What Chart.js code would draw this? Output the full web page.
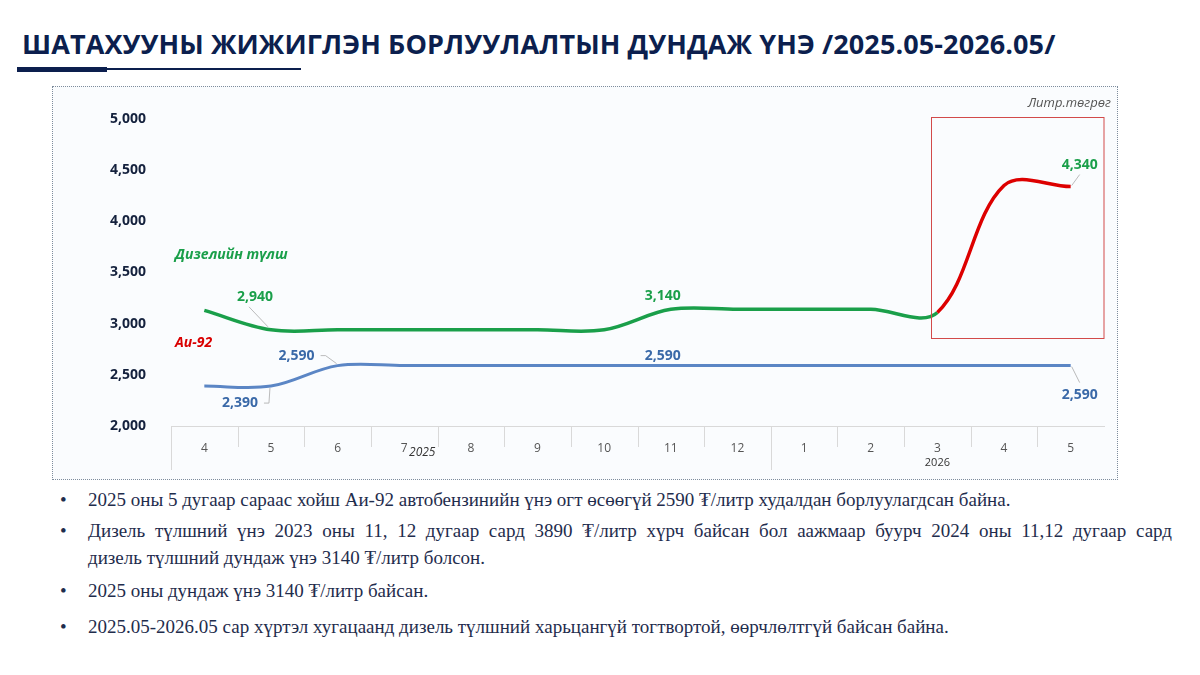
<!DOCTYPE html>
<html>
<head>
<meta charset="utf-8">
<script src="https://cdn.jsdelivr.net/npm/chart.js@4.4.1/dist/chart.umd.min.js"></script>
<style>
  body { margin: 0; background: #fff; }
  #page { position: relative; width: 1200px; height: 675px; overflow: hidden; background: #fff; }
  #title { position: absolute; left: 22px; top: 25px; font: 700 27px "Open Sans", sans-serif; letter-spacing: 0.1px; color: #0c1f4e; white-space: nowrap; }
  .bar1 { position: absolute; left: 17px; top: 67px; width: 90px; height: 5px; background: #0c1f4e; }
  .bar2 { position: absolute; left: 105px; top: 68px; width: 196px; height: 2px; background: #0c1f4e; }
  #box { position: absolute; left: 52px; top: 86px; width: 1064px; height: 392px; border: 1px dotted #7e8c9c; background: #fafcfe; }
  #chartWrap { position: absolute; left: 52px; top: 86px; width: 1066px; height: 394px; }
  .serLbl { position: absolute; font: italic 700 14px "Open Sans", sans-serif; white-space: nowrap; }
  #unit { position: absolute; right: 89px; top: 93px; font: italic 13px "Open Sans", sans-serif; color: #555; }
  .bl { position: absolute; left: 60px; font: 19px "Liberation Serif", "DejaVu Serif", serif; color: #1f2d4d; white-space: nowrap; }
  .bl .dot { position: absolute; left: 0; }
  .bl .tx { position: absolute; left: 28px; }
  .just { position: absolute; left: 88px; width: 1084px; font: 19px "Liberation Serif", "DejaVu Serif", serif; color: #1f2d4d; text-align: justify; text-align-last: justify; white-space: nowrap; }
</style>
</head>
<body>
<div id="page">
  <div id="title">ШАТАХУУНЫ ЖИЖИГЛЭН БОРЛУУЛАЛТЫН ДУНДАЖ ҮНЭ /2025.05-2026.05/</div>
  <div class="bar1"></div><div class="bar2"></div>
  <div id="box"></div>
  <div id="chartWrap"><canvas id="fuelChart"></canvas></div>
  <div class="serLbl" style="left:175px;top:244px;color:#1a9f4a">Дизелийн түлш</div>
  <div class="serLbl" style="left:175px;top:332px;color:#d90000">Аи-92</div>
  <div id="unit">Литр.төгрөг</div>

  <div class="bl" style="top:489px"><span class="dot">•</span><span class="tx">2025 оны 5 дугаар сараас хойш Аи-92 автобензинийн үнэ огт өсөөгүй 2590 ₮/литр худалдан борлуулагдсан байна.</span></div>
  <div class="bl" style="top:520px"><span class="dot">•</span></div>
  <div class="just" style="top:520px">Дизель түлшний үнэ 2023 оны 11, 12 дугаар сард 3890 ₮/литр хүрч байсан бол аажмаар буурч 2024 оны 11,12 дугаар сард</div>
  <div class="bl" style="top:547px"><span class="tx">дизель түлшний дундаж үнэ 3140 ₮/литр болсон.</span></div>
  <div class="bl" style="top:580px"><span class="dot">•</span><span class="tx">2025 оны дундаж үнэ 3140 ₮/литр байсан.</span></div>
  <div class="bl" style="top:616px"><span class="dot">•</span><span class="tx">2025.05-2026.05 сар хүртэл хугацаанд дизель түлшний харьцангүй тогтвортой, өөрчлөлтгүй байсан байна.</span></div>
</div>
<script>
// Сарууд (2025.04 - 2026.05)
const months = ['4', '5', '6', '7', '8', '9', '10', '11', '12', '1', '2', '3', '4', '5'];
const years = ['2025', '2026'];
const yearStart = [0, 9];

// Литр.төгрөг
const diesel = [3130, 2940, 2940, 2940, 2940, 2940, 2940, 3140, 3140, 3140, 3140, 3110, 4350, 4340];
const ai92 = [2390, 2390, 2590, 2590, 2590, 2590, 2590, 2590, 2590, 2590, 2590, 2590, 2590, 2590];

const yTicks = [2000, 2500, 3000, 3500, 4000, 4500, 5000];

// шошго гарах цэгүүд
const dieselLabelIdx = [1, 7, 13];
const ai92LabelIdx = [1, 2, 7, 13];

const GREEN = '#1a9f4a';
const RED = '#dd0000';
const BLUE = '#5b86c5';
const BLUE_TXT = '#3a69a8';
const FONT = '"Open Sans", sans-serif';

const fmt = v => v.toLocaleString('en-US');

// шошгоны байрлал: [dx, dy, leader төрөл]
const dieselPos = { 1: [-16, -33, 'down'], 7: [-8, -13, null], 13: [9, -22, 'up'] };
const ai92Pos = { 1: [-31, 17, 'side'], 2: [-41, -10, 'side'], 7: [-8, -10, null], 13: [9, 29, 'up'] };

const extras = {
  id: 'extras',
  afterDatasetsDraw(chart) {
    const { ctx, chartArea, scales: { x, y } } = chart;
    ctx.save();

    // x тэнхлэгийн хуваагч шугам
    ctx.strokeStyle = '#d9d9d9';
    ctx.lineWidth = 1;
    const cw = x.getPixelForValue(1) - x.getPixelForValue(0);
    for (let i = 0; i < months.length; i++) {
      const px = Math.round(x.getPixelForValue(i) - cw / 2) + 0.5;
      const long = yearStart.includes(i);
      ctx.beginPath();
      ctx.moveTo(px, chartArea.bottom);
      ctx.lineTo(px, chartArea.bottom + (long ? 44 : 21));
      ctx.stroke();
    }
    // он
    ctx.fillStyle = '#333';
    ctx.textAlign = 'center';
    ctx.textBaseline = 'middle';
    ctx.font = 'italic 12px ' + FONT;
    ctx.fillText(years[0], x.getPixelForValue(3.27), chartArea.bottom + 27);
    ctx.font = '11px ' + FONT;
    ctx.fillText(years[1], x.getPixelForValue(11), chartArea.bottom + 37);

    // улаан хүрээ
    ctx.strokeStyle = '#d24a4a';
    ctx.lineWidth = 1;
    const bx = Math.round(x.getPixelForValue(11) - 6) + 0.5;
    const by = Math.round(y.getPixelForValue(5020)) + 0.5;
    const bb = Math.round(y.getPixelForValue(2860)) + 0.5;
    ctx.strokeRect(bx, by, Math.round(chartArea.right) - bx, bb - by);

    // утгын шошго
    const drawLabels = (dsIndex, idxs, pos, color) => {
      const meta = chart.getDatasetMeta(dsIndex);
      const data = chart.data.datasets[dsIndex].data;
      idxs.forEach(i => {
        const pt = meta.data[i];
        const [dx, dy, leader] = pos[i];
        const tx = pt.x + dx, ty = pt.y + dy;
        ctx.strokeStyle = '#aaaaaa';
        ctx.lineWidth = 0.8;
        ctx.beginPath();
        if (leader === 'down') {
          ctx.moveTo(tx - 6, ty + 10);
          ctx.lineTo(pt.x - 3, pt.y - 3);
        } else if (leader === 'side') {
          ctx.moveTo(tx + 24, ty);
          ctx.lineTo(tx + 29, ty);
          ctx.lineTo(pt.x - 1, pt.y + (dy < 0 ? -2 : 2));
        } else if (leader === 'up') {
          ctx.moveTo(pt.x + 1, pt.y + (dy < 0 ? -1 : 1));
          ctx.lineTo(tx, ty + (dy < 0 ? 10 : -12));
        }
        if (leader) ctx.stroke();
        ctx.fillStyle = color;
        ctx.font = '700 14px ' + FONT;
        ctx.textAlign = 'center';
        ctx.textBaseline = 'middle';
        ctx.fillText(fmt(data[i]), tx, ty);
      });
    };
    drawLabels(0, dieselLabelIdx, dieselPos, GREEN);
    drawLabels(1, ai92LabelIdx, ai92Pos, BLUE_TXT);
    ctx.restore();
  }
};

new Chart(document.getElementById('fuelChart'), {
  type: 'line',
  data: {
    labels: months,
    datasets: [{
      label: 'Дизелийн түлш',
      data: diesel,
      borderColor: GREEN,
      borderWidth: 3.5,
      pointRadius: 0,
      tension: 0.35,
      segment: { borderColor: c => c.p0DataIndex >= 11 ? RED : GREEN }
    }, {
      label: 'Аи-92',
      data: ai92,
      borderColor: BLUE,
      borderWidth: 3,
      pointRadius: 0,
      tension: 0.35
    }]
  },
  options: {
    responsive: true,
    maintainAspectRatio: false,
    animation: false,
    layout: { padding: { top: 33, right: 14, left: 0, bottom: 0 } },
    plugins: { legend: { display: false }, tooltip: { enabled: false } },
    scales: {
      x: {
        offset: true,
        grid: { display: false },
        border: { display: true, color: '#d9d9d9', width: 1 },
        ticks: { color: '#555', font: { size: 12, family: FONT }, padding: 7, maxRotation: 0, autoSkip: false },
        afterFit: s => { s.height = 54; }
      },
      y: {
        min: yTicks[0],
        max: yTicks[yTicks.length - 1],
        grid: { display: false },
        border: { display: false },
        afterBuildTicks: s => { s.ticks = yTicks.map(v => ({ value: v })); },
        ticks: { color: '#14213d', font: { size: 14, weight: '700', family: FONT }, padding: 17, callback: v => fmt(v) },
        afterFit: s => { s.width = 119; }
      }
    }
  },
  plugins: [extras]
});
</script>
</body>
</html>
